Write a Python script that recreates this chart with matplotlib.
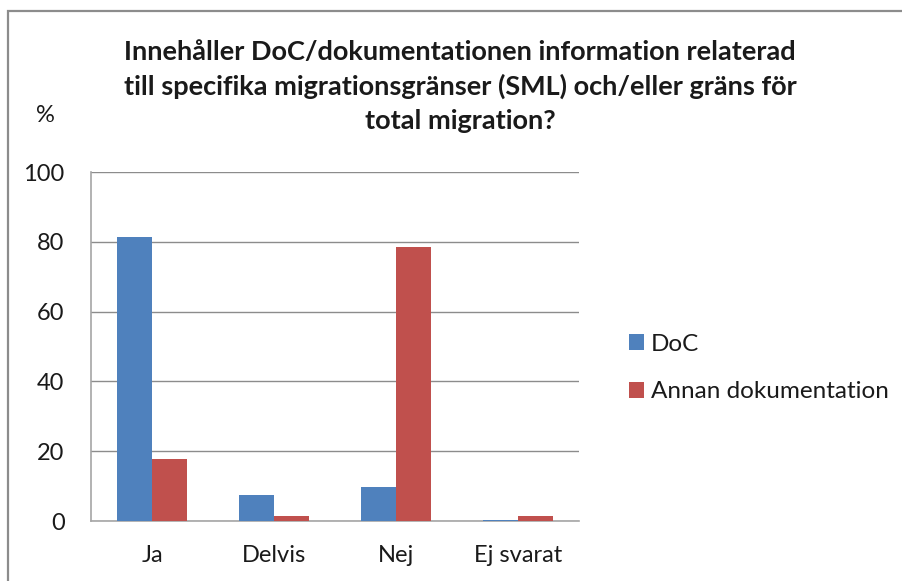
import matplotlib
matplotlib.use("Agg")
import matplotlib.pyplot as plt
from matplotlib.patches import Rectangle
import numpy as np

categories = ["Ja", "Delvis", "Nej", "Ej svarat"]
doc_values = [81.5, 7.4, 9.7, 0.4]
annan_values = [17.8, 1.5, 78.5, 1.5]
series_names = ["DoC", "Annan dokumentation"]
yticks = [0, 20, 40, 60, 80, 100]
title = ("Innehåller DoC/dokumentationen information relaterad\n"
         "till specifika migrationsgränser (SML) och/eller gräns för\n"
         "total migration?")

plt.rcParams['font.family'] = ['Lato', 'DejaVu Sans']

W, H = 902, 581
fig = plt.figure(figsize=(W / 100, H / 100), dpi=100)

# outer frame (cropped at right and bottom)
fig.add_artist(Rectangle((8 / W, -0.1), 1.2, 1.1 - 11 / H,
                         transform=fig.transFigure, fill=False,
                         edgecolor="#8c8c8c", linewidth=1.6))

ax = fig.add_axes([91 / W, 1 - 521 / H, (579 - 91) / W, (521 - 172) / H])
x = np.arange(len(categories))
w = 0.285
b1 = ax.bar(x - w / 2, doc_values, w, color="#4F81BD", label=series_names[0], zorder=3)
b2 = ax.bar(x + w / 2, annan_values, w, color="#C0504D", label=series_names[1], zorder=3)

ax.set_xlim(-0.5, len(categories) - 0.5)
ax.set_ylim(0, 100)
ax.set_yticks(yticks)
ax.set_yticklabels([str(t) for t in yticks])
ax.set_xticks(x)
ax.set_xticklabels(categories)
ax.yaxis.grid(True, color="#8c8c8c", linewidth=1.0, zorder=0)
ax.set_axisbelow(True)
for s in ["top", "right"]:
    ax.spines[s].set_visible(False)
for s in ["left", "bottom"]:
    ax.spines[s].set_color("#a6a6a6")
    ax.spines[s].set_linewidth(1.2)
ax.tick_params(axis="both", length=0, labelsize=17, colors="#1a1a1a")
ax.tick_params(axis="y", pad=19)
ax.tick_params(axis="x", pad=17)

fig.text(460 / W, 1 - 86.5 / H, title, ha="center", va="center",
         fontsize=19.5, fontweight="bold", linespacing=1.5, color="#1a1a1a")
fig.text(45 / W, 1 - 115 / H, "%", ha="center", va="center",
         fontsize=17, color="#1a1a1a")

leg = fig.legend(handles=[b1, b2], labels=series_names, loc="upper left",
                 bbox_to_anchor=(619 / W, 1 - 324 / H), frameon=False,
                 fontsize=17.5, handlelength=0.62, handleheight=0.62,
                 handletextpad=0.28, labelspacing=1.1, borderaxespad=0)
for t in leg.get_texts():
    t.set_color("#1a1a1a")

fig.savefig("out.png", dpi=100)
